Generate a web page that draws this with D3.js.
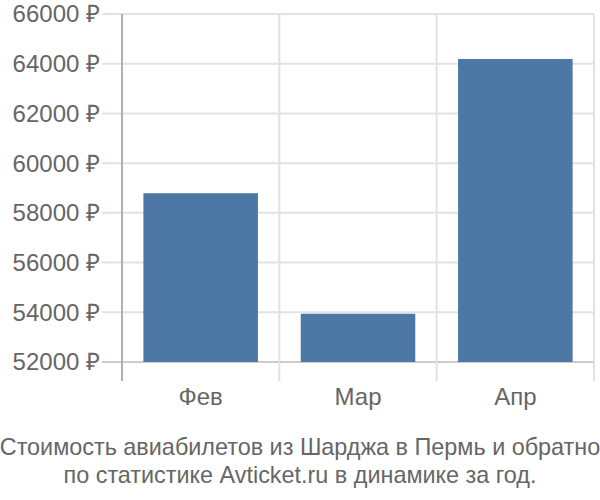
<!DOCTYPE html>
<html><head><meta charset="utf-8">
<script src="https://cdn.jsdelivr.net/npm/d3@7"></script>
<style>body{margin:0;background:#fff;}svg{display:block;font-family:"Liberation Sans",Arial,sans-serif;}</style>
</head><body>
<svg id="c" width="600" height="500"></svg>
<script>
const categories = ["Фев", "Мар", "Апр"];
const values = [58790, 53940, 64190];
const yTicks = [52000, 54000, 56000, 58000, 60000, 62000, 64000, 66000];
const titleLines = ["Стоимость авиабилетов из Шарджа в Пермь и обратно", "по статистике Avticket.ru в динамике за год."];

(function () {
const svg = d3.select("#c");
const pLeft = 122, pRight = 594, pTop = 14, pBottom = 362;
const x = d3.scaleBand().domain(categories).range([pLeft, pRight]).padding(0);
const y = d3.scaleLinear().domain([52000, 66000]).range([pBottom, pTop]);

// horizontal grid
svg.append("g").selectAll("line").data(yTicks).join("line")
  .attr("x1", 102).attr("x2", pRight)
  .attr("y1", d => y(d)).attr("y2", d => y(d))
  .attr("stroke", d => d === 52000 ? "#cccccc" : "#e2e2e2").attr("stroke-width", 2);

// vertical grid lines at band edges
const edges = categories.map(c => x(c)).concat([pRight]);
svg.append("g").selectAll("line").data(edges).join("line")
  .attr("x1", d => d).attr("x2", d => d)
  .attr("y1", pTop).attr("y2", 381)
  .attr("stroke", (d, i) => i === 0 ? "#b0b0b0" : "#e2e2e2").attr("stroke-width", 2);

// bars
const inset = x.step() * 0.136;
svg.append("g").selectAll("rect").data(values).join("rect")
  .attr("x", (d, i) => x(categories[i]) + inset)
  .attr("width", x.step() - 2 * inset)
  .attr("y", d => y(d))
  .attr("height", d => y(52000) - y(d))
  .attr("fill", "#4d78a6");

// y labels
svg.append("g").selectAll("text").data(yTicks).join("text")
  .attr("x", 100).attr("y", d => y(d)).attr("dy", "0.35em")
  .attr("text-anchor", "end").attr("fill", "#666").attr("font-size", 24)
  .text(d => d + " ₽");

// x labels
svg.append("g").selectAll("text").data(categories).join("text")
  .attr("x", d => x(d) + x.bandwidth() / 2).attr("y", 405)
  .attr("text-anchor", "middle").attr("fill", "#666").attr("font-size", 24)
  .text(d => d);

// title
svg.append("g").selectAll("text").data(titleLines).join("text")
  .attr("x", 300).attr("y", (d, i) => 455 + i * 28)
  .attr("text-anchor", "middle").attr("fill", "#666").attr("font-size", 23.4)
  .text(d => d);
})();
</script>
</body></html>
